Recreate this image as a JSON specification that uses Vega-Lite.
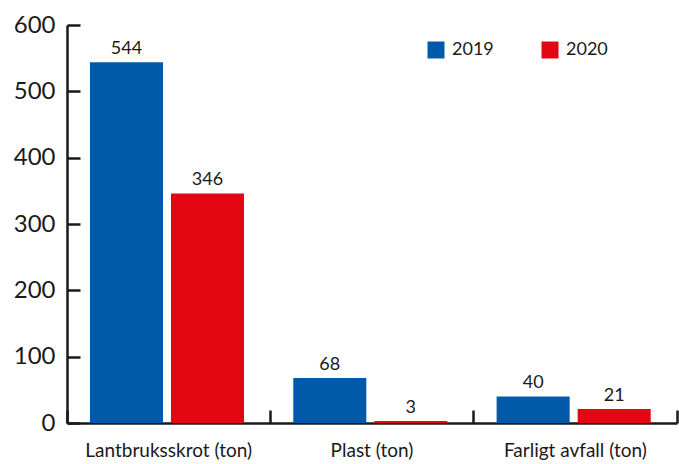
{
  "$schema": "https://vega.github.io/schema/vega-lite/v6.json",
  "width": 610,
  "height": 398,
  "autosize": {"type": "none"},
  "padding": {"left": 67, "top": 25, "right": 2, "bottom": 41},
  "background": "white",
  "config": {
    "view": {"stroke": null},
    "font": "Lato",
    "text": {"font": "Lato"}
  },
  "data": {
    "values": [
      {"kategori": "Lantbruksskrot (ton)", "år": "2019", "värde": 544},
      {"kategori": "Lantbruksskrot (ton)", "år": "2020", "värde": 346},
      {"kategori": "Plast (ton)", "år": "2019", "värde": 68},
      {"kategori": "Plast (ton)", "år": "2020", "värde": 3},
      {"kategori": "Farligt avfall (ton)", "år": "2019", "värde": 40},
      {"kategori": "Farligt avfall (ton)", "år": "2020", "värde": 21}
    ]
  },
  "encoding": {
    "x": {
      "field": "kategori",
      "type": "nominal",
      "sort": null,
      "scale": {"paddingInner": 0, "paddingOuter": 0},
      "axis": {
        "title": null,
        "labelAngle": 0,
        "labelFontSize": 19,
        "labelColor": "#1a1a1a",
        "labelPadding": 31,
        "bandPosition": 1,
        "tickExtra": true,
        "tickSize": -13,
        "tickWidth": 2.5,
        "tickColor": "#1a1a1a",
        "domainColor": "#1a1a1a",
        "domainWidth": 2.5
      }
    },
    "xOffset": {
      "field": "år",
      "type": "nominal",
      "scale": {"paddingInner": 0.0988, "paddingOuter": 0.304, "align": 0.466}
    },
    "y": {
      "field": "värde",
      "type": "quantitative",
      "scale": {"domain": [0, 600], "nice": false},
      "axis": {
        "title": null,
        "values": [0, 100, 200, 300, 400, 500, 600],
        "grid": false,
        "labelFontSize": 24,
        "labelColor": "#1a1a1a",
        "labelPadding": 25,
        "tickSize": -13,
        "tickWidth": 2.5,
        "tickColor": "#1a1a1a",
        "domainColor": "#1a1a1a",
        "domainWidth": 2.5
      }
    }
  },
  "layer": [
    {
      "mark": {"type": "bar"},
      "encoding": {
        "color": {
          "field": "år",
          "type": "nominal",
          "scale": {"domain": ["2019", "2020"], "range": ["#005AA9", "#E30613"]},
          "legend": {
            "orient": "none",
            "legendX": 360,
            "legendY": 16,
            "direction": "horizontal",
            "title": null,
            "symbolType": "square",
            "symbolSize": 289,
            "symbolStrokeWidth": 0,
            "labelFontSize": 18,
            "labelColor": "#1a1a1a",
            "labelOffset": 7,
            "columnPadding": 47
          }
        }
      }
    },
    {
      "mark": {"type": "text", "baseline": "alphabetic", "dy": -8, "fontSize": 18, "color": "#1a1a1a"},
      "encoding": {
        "text": {"field": "värde", "type": "quantitative"}
      }
    }
  ]
}
